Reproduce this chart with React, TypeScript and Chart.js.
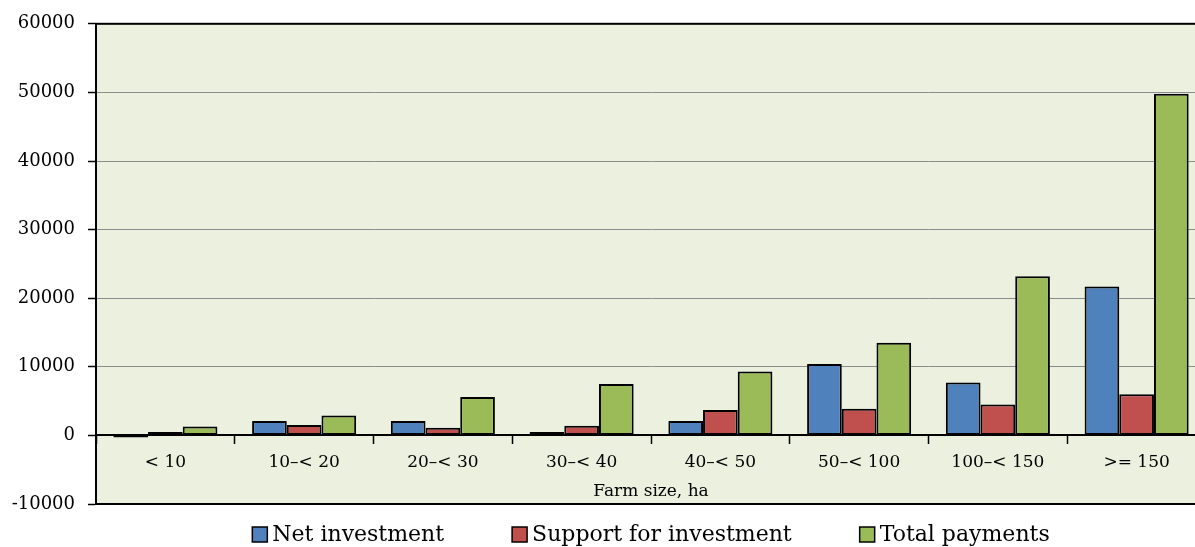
import { useEffect, useRef } from 'react';
import { Chart, registerables } from 'chart.js';

Chart.register(...registerables);

const categories = ['< 10', '10–< 20', '20–< 30', '30–< 40', '40–< 50', '50–< 100', '100–< 150', '>= 150'];
const netInvestment = [-300, 2100, 2100, 500, 2100, 10400, 7700, 21700];
const supportForInvestment = [500, 1500, 1100, 1400, 3700, 3900, 4500, 6000];
const totalPayments = [1300, 2900, 5600, 7500, 9300, 13500, 23200, 49800];
const seriesNames = ['Net investment', 'Support for investment', 'Total payments'];
const seriesColors = ['#4F81BD', '#C0504D', '#9BBB59'];
const yMin = -10000;
const yMax = 60000;
const yStep = 10000;
const xTitle = 'Farm size, ha';

const FONT = '"DejaVu Serif", serif';
const PLOT_BG = '#EBF1DE';

const framePlugin = {
  id: 'frame',
  beforeDraw(chart: any) {
    const { ctx, chartArea } = chart;
    ctx.save();
    ctx.fillStyle = PLOT_BG;
    ctx.fillRect(chartArea.left, chartArea.top, chartArea.right - chartArea.left, chartArea.bottom - chartArea.top);
    ctx.restore();
  },
  afterDraw(chart: any) {
    const { ctx, chartArea } = chart;
    ctx.save();
    ctx.strokeStyle = '#000';
    ctx.lineWidth = 2;
    ctx.strokeRect(chartArea.left, chartArea.top, chartArea.right - chartArea.left, chartArea.bottom - chartArea.top);
    ctx.restore();

    // legend
    ctx.save();
    ctx.font = `22px ${FONT}`;
    ctx.textBaseline = 'middle';
    ctx.textAlign = 'left';
    const box = 15;
    const boxGap = 5;
    const itemGap = 68;
    const items = chart.data.datasets.map((ds: any) => ({
      label: ds.label,
      color: ds.backgroundColor,
      w: box + boxGap + ctx.measureText(ds.label).width,
    }));
    const total = items.reduce((s: number, it: any) => s + it.w, 0) + itemGap * (items.length - 1);
    let x = (chartArea.left + chartArea.right) / 2 - total / 2;
    const yc = 534.5;
    for (const it of items) {
      ctx.fillStyle = it.color;
      ctx.fillRect(x, yc - box / 2, box, box);
      ctx.strokeStyle = '#000';
      ctx.lineWidth = 1.5;
      ctx.strokeRect(x, yc - box / 2, box, box);
      ctx.fillStyle = '#000';
      ctx.fillText(it.label, x + box + boxGap, yc + 1);
      x += it.w + itemGap;
    }
    ctx.restore();
  },
};

export default function App() {
  const ref = useRef<HTMLCanvasElement | null>(null);

  useEffect(() => {
    document.body.style.margin = '0';
    const canvas = ref.current;
    if (!canvas) return;
    const seriesValues = [netInvestment, supportForInvestment, totalPayments];
    const chart = new Chart(canvas, {
      type: 'bar',
      data: {
        labels: categories,
        datasets: seriesValues.map((vals, i) => ({
          label: seriesNames[i],
          data: vals,
          backgroundColor: seriesColors[i],
          borderColor: '#000',
          borderWidth: 2,
          borderSkipped: false,
          barPercentage: 1,
          categoryPercentage: 0.75,
        })),
      },
      options: {
        responsive: false,
        animation: false,
        events: [],
        layout: { padding: { top: 21, right: 1, bottom: 43, left: 0 } },
        plugins: {
          legend: { display: false },
          tooltip: { enabled: false },
        },
        scales: {
          y: {
            min: yMin,
            max: yMax,
            afterFit: (scale: any) => {
              scale.width = 96;
            },
            ticks: {
              stepSize: yStep,
              color: '#000',
              padding: 13,
              font: { family: FONT, size: 18 },
              callback: (v: any) => String(v),
            },
            border: { display: true, color: '#000', width: 2 },
            grid: {
              color: (c: any) => (c.tick && c.tick.value === 0 ? 'rgba(0,0,0,0)' : '#8C8C8C'),
              lineWidth: 1,
              drawTicks: true,
              tickLength: 8,
              tickColor: '#000',
              tickWidth: 1.5,
            },
          },
          x: {
            position: { y: 0 } as any,
            offset: true,
            ticks: {
              color: '#000',
              padding: 9,
              font: { family: FONT, size: 17 },
              maxRotation: 0,
            },
            border: { display: true, color: '#000', width: 2 },
            grid: {
              offset: true,
              drawOnChartArea: false,
              drawTicks: true,
              tickLength: 8,
              color: '#000',
              tickColor: '#000',
              tickWidth: 1.5,
            },
            title: {
              display: true,
              text: xTitle,
              color: '#000',
              font: { family: FONT, size: 17 },
              padding: { top: 0, bottom: 4 },
            },
          },
        },
      },
      plugins: [framePlugin],
    });
    return () => chart.destroy();
  }, []);

  return (
    <div style={{ width: 1195, height: 547, overflow: 'hidden', position: 'relative' }}>
      <canvas ref={ref} width={1207} height={547} style={{ display: 'block', width: 1207, height: 547 }} />
    </div>
  );
}
